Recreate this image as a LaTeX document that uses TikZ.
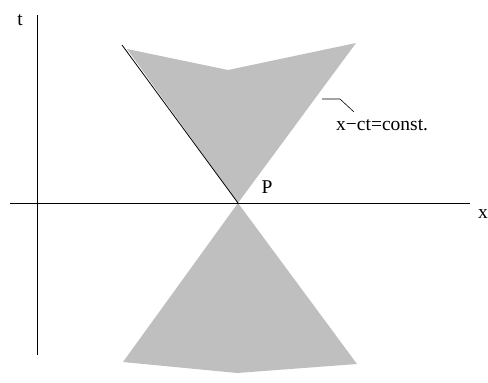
\documentclass[tikz,border=0pt]{standalone}
\usepackage{fontspec}
\setmainfont{Liberation Serif}
\usetikzlibrary{positioning}
\begin{document}
\begin{tikzpicture}[x=1pt,y=-1pt]
  \tikzset{cone/.style = {fill=black!25,draw=none}}
  \tikzset{axis/.style = {line width=0.9pt}}
  \tikzset{lbl/.style = {font=\fontsize{19.5}{22}\selectfont,inner sep=0pt}}
  \useasboundingbox (0,0) rectangle (488,383);
  % points
  \coordinate (P)  at (238,203);
  \coordinate (ul) at (127,49);
  \coordinate (um) at (228,70);
  \coordinate (ur) at (356,43);
  \coordinate (ll) at (123,362);
  \coordinate (lm) at (237,373);
  \coordinate (lr) at (357,364);
  % cones
  \fill[cone] (P) -- (ul) -- (um) -- (ur) -- cycle;
  \fill[cone] (P) -- (ll) -- (lm) -- (lr) -- cycle;
  % axes
  \coordinate (xa) at (10,203);
  \coordinate (xb) at (470,203);
  \coordinate (ta) at (37,355);
  \coordinate (tb) at (37,15);
  \draw[axis] (xa) -- (xb);
  \draw[axis] (ta) -- (tb);
  \node[lbl] (xl) at (483,214) {x};
  \node[lbl] (tl) at (20,20) {t};
  \node[lbl] (pl) at (267,187) {P};
  % line x-ct=const.
  \coordinate (w) at (122,45);
  \draw[line width=0.8pt] (w) -- (P);
  \node[lbl,anchor=base west] (cl) at (336,130) {x−ct=const.};
  \coordinate (la) at (322,99);
  \coordinate (lb) at (340,99);
  \coordinate (lc) at (354,112);
  \draw[line width=0.6pt] (la) -- (lb) -- (lc);
\end{tikzpicture}
\end{document}
